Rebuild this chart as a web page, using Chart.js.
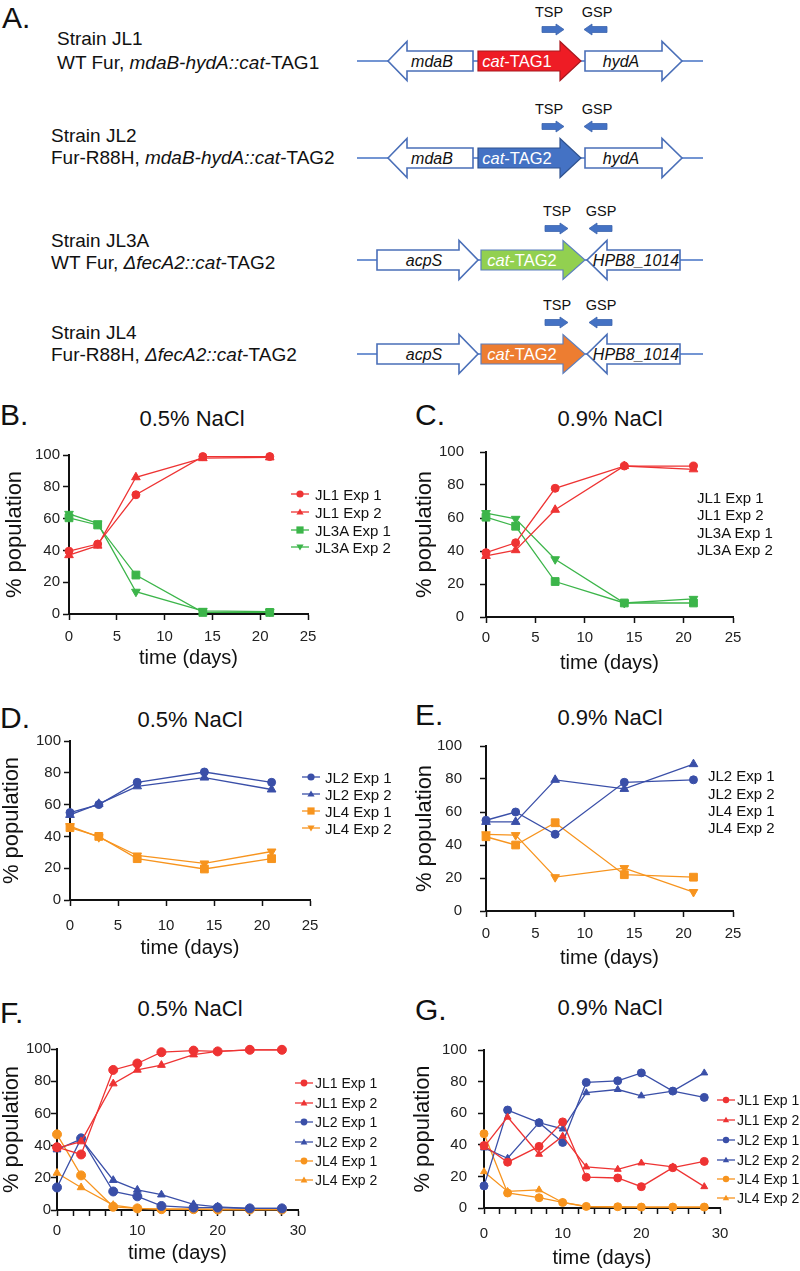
<!DOCTYPE html>
<html>
<head>
<meta charset="utf-8">
<script src="https://cdn.jsdelivr.net/npm/chart.js@4.4.1/dist/chart.umd.min.js"></script>
<style>
  body { margin: 0; background: #fff; }
  #fig { position: relative; width: 800px; height: 1271px; overflow: hidden;
         font-family: 'Liberation Sans', Arial, Helvetica, sans-serif; color: #111; }
  .abs { position: absolute; white-space: nowrap; }
  canvas { position: absolute; }
</style>
</head>
<body>
<div id="fig">
  <svg id="genes" width="800" height="390" style="position:absolute;left:0;top:0"></svg>
</div>
<script>
// ---- data ----
const daysShort = [0, 3, 7, 14, 21];
const daysLong = [0, 3, 7, 10, 13, 17, 20, 24, 28];

// B. 0.5% NaCl
const bJL1Exp1 = [39.5, 44, 75, 99, 99];
const bJL1Exp2 = [37, 43, 86, 98, 98.5];
const bJL3AExp1 = [60.5, 56, 24.5, 1, 1];
const bJL3AExp2 = [63, 57, 14, 2, 1.5];

// C. 0.9% NaCl
const cJL1Exp1 = [39, 45, 78, 91.5, 91.5];
const cJL1Exp2 = [37, 40.5, 65, 91.5, 89.5];
const cJL3AExp1 = [60.5, 55, 21.5, 8.5, 8.5];
const cJL3AExp2 = [63, 59.5, 35, 8.5, 11];

// D. 0.5% NaCl
const dJL2Exp1 = [55, 60, 74, 80.5, 74];
const dJL2Exp2 = [53.5, 60.5, 71.5, 77, 69.5];
const dJL4Exp1 = [45.5, 40, 26, 19.5, 26];
const dJL4Exp2 = [46.5, 39.5, 28, 23, 30.5];

// E. 0.9% NaCl
const eJL2Exp1 = [55, 60, 46.5, 78, 79.5];
const eJL2Exp2 = [54, 54, 79.5, 74, 89];
const eJL4Exp1 = [45, 40, 53.5, 22, 20.5];
const eJL4Exp2 = [46.5, 46, 20.5, 26, 11.5];

// F. 0.5% NaCl
const fJL1Exp1 = [39, 34.5, 87, 91, 98, 99, 98.5, 99.5, 99.5];
const fJL1Exp2 = [38.5, 42.5, 78.5, 87, 90, 96.5, 98.5, 99.5, 99.5];
const fJL2Exp1 = [14, 44.5, 11.5, 8.5, 2.5, 1.5, 1.5, 1, 1];
const fJL2Exp2 = [37.5, 44, 18.5, 12.5, 9.5, 3.5, 2, 1, 1];
const fJL4Exp1 = [47, 21.5, 2, 1, 0.5, 0.5, 0.3, 0.3, 0.3];
const fJL4Exp2 = [23, 14, 3, 1, 0.5, 0.5, 0.3, 0.3, 0.3];

// G. 0.9% NaCl
const gJL1Exp1 = [39.5, 29, 39, 54.5, 19.5, 19, 13.5, 25.5, 29.5];
const gJL1Exp2 = [38.5, 57.5, 34, 45.5, 26, 24.5, 28.5, 26, 13.5];
const gJL2Exp1 = [14, 62, 54, 41.5, 79.5, 80.5, 85.5, 74, 70];
const gJL2Exp2 = [38, 31.5, 54, 50, 73, 75, 71, 74, 85.5];
const gJL4Exp1 = [47, 9.5, 6.5, 3.5, 1, 0.8, 0.6, 0.6, 0.6];
const gJL4Exp2 = [23, 10.5, 11.5, 3.5, 0.8, 0.6, 0.5, 0.5, 0.5];

const yTicks = [0, 20, 40, 60, 80, 100];
const xTicksShort = [0, 5, 10, 15, 20, 25];
const xTicksLong = [0, 10, 20, 30];

// ---- styles ----
const FONT = "'Liberation Sans', Arial, Helvetica, sans-serif";
const RED = '#ee3333', GREEN = '#3cb54a', BLUE = '#3a4fa8', ORANGE = '#f7941e';
const fig = document.getElementById('fig');

// ---- panel A: gene diagrams ----
const NS = 'http://www.w3.org/2000/svg';
const svg = document.getElementById('genes');
function el(tag, attrs, parent, text) {
    const e = document.createElementNS(NS, tag);
    for (const k in attrs) e.setAttribute(k, attrs[k]);
    if (text != null) e.textContent = text;
    parent.appendChild(e);
    return e;
}

const strainNames = ['Strain JL1', 'Strain JL2', 'Strain JL3A', 'Strain JL4'];
const genotypes = [
    [['WT Fur, ', 0], ['mdaB-hydA::cat', 1], ['-TAG1', 0]],
    [['Fur-R88H, ', 0], ['mdaB-hydA::cat', 1], ['-TAG2', 0]],
    [['WT Fur, ', 0], ['\u0394fecA2::cat', 1], ['-TAG2', 0]],
    [['Fur-R88H, ', 0], ['\u0394fecA2::cat', 1], ['-TAG2', 0]]
];
const cassetteTags = ['-TAG1', '-TAG2', '-TAG2', '-TAG2'];
const cassetteFill = ['#ee1c25', '#4472c4', '#92d050', '#ed7d31'];
const cassetteStroke = ['#a8181e', '#2f528f', '#5b7fc0', '#5b7fc0'];

const rowY = [61, 158, 260, 354];
const strainY = [38, 135, 240, 332];
const genoY = [62, 157, 262, 354];
const textX = [57, 51, 51, 51];

const locusHyd = {
    flank: [
        { name: 'mdaB', dir: -1, from: 388, head: 407, to: 473, lx: 432 },
        { name: 'hydA', dir: 1, from: 585, head: 662, to: 682, lx: 621 }
    ],
    cat: { from: 478, head: 560, to: 581, lx: 517 },
    tsp: [542, 564, 549], gsp: [584, 607, 597]
};
const locusFec = {
    flank: [
        { name: 'acpS', dir: 1, from: 377, head: 459, to: 478, lx: 424 },
        { name: 'HPB8_1014', dir: -1, from: 587, head: 607, to: 680, lx: 636 }
    ],
    cat: { from: 481, head: 563, to: 585, lx: 522 },
    tsp: [545, 568, 557], gsp: [589, 612, 601]
};

function genePts(g, y) {
    const b = 10, h = 19.5;
    if (g.dir > 0) return [[g.from, y - b], [g.head, y - b], [g.head, y - h], [g.to, y], [g.head, y + h], [g.head, y + b], [g.from, y + b]];
    return [[g.from, y], [g.head, y - h], [g.head, y - b], [g.to, y - b], [g.to, y + b], [g.head, y + b], [g.head, y + h]];
}
function primerPts(x0, x1, dir, y) {
    const b = 3, h = 5.5, hl = 8;
    if (dir > 0) return [[x0, y - b], [x1 - hl, y - b], [x1 - hl, y - h], [x1, y], [x1 - hl, y + h], [x1 - hl, y + b], [x0, y + b]];
    return [[x0, y], [x0 + hl, y - h], [x0 + hl, y - b], [x1, y - b], [x1, y + b], [x0 + hl, y + b], [x0 + hl, y + h]];
}
const ptsStr = pts => pts.map(p => p.join(',')).join(' ');

el('text', { x: 2, y: 28, 'font-size': 30, 'font-family': FONT, fill: '#111' }, svg, 'A.');

strainNames.forEach((name, i) => {
    const y = rowY[i];
    const locus = i < 2 ? locusHyd : locusFec;
    el('text', { x: textX[i], y: strainY[i] + 6.8, 'font-size': 19, 'font-family': FONT, fill: '#111' }, svg, name);
    const t = el('text', { x: textX[i], y: genoY[i] + 6.8, 'font-size': 19, 'font-family': FONT, fill: '#111' }, svg);
    genotypes[i].forEach(([s, it]) => el('tspan', it ? { 'font-style': 'italic' } : {}, t, s));

    el('line', { x1: 357, y1: y, x2: 703, y2: y, stroke: '#4472c4', 'stroke-width': 1.6 }, svg);
    locus.flank.forEach(g => {
        el('polygon', { points: ptsStr(genePts(g, y)), fill: '#fff', stroke: '#4a6fb8', 'stroke-width': 1.6 }, svg);
        el('text', { x: g.lx, y: y + 5.6, 'font-size': 16, 'font-style': 'italic', 'text-anchor': 'middle', 'font-family': FONT, fill: '#111' }, svg, g.name);
    });
    const c = Object.assign({ dir: 1 }, locus.cat);
    el('polygon', { points: ptsStr(genePts(c, y)), fill: cassetteFill[i], stroke: cassetteStroke[i], 'stroke-width': 1.2 }, svg);
    const ct = el('text', { x: c.lx, y: y + 5.8, 'font-size': 16.5, 'text-anchor': 'middle', 'font-family': FONT, fill: '#fff' }, svg);
    el('tspan', { 'font-style': 'italic' }, ct, 'cat');
    el('tspan', {}, ct, cassetteTags[i]);

    el('text', { x: locus.tsp[2], y: y - 49 + 5.2, 'font-size': 14.5, 'text-anchor': 'middle', 'font-family': FONT, fill: '#111' }, svg, 'TSP');
    el('text', { x: locus.gsp[2], y: y - 49 + 5.2, 'font-size': 14.5, 'text-anchor': 'middle', 'font-family': FONT, fill: '#111' }, svg, 'GSP');
    el('polygon', { points: ptsStr(primerPts(locus.tsp[0], locus.tsp[1], 1, y - 31.5)), fill: '#4472c4', stroke: '#3c64ad', 'stroke-width': 0.8 }, svg);
    el('polygon', { points: ptsStr(primerPts(locus.gsp[0], locus.gsp[1], -1, y - 31.5)), fill: '#4472c4', stroke: '#3c64ad', 'stroke-width': 0.8 }, svg);
});

// ---- helpers for panels B-G ----
function addText(text, x, y, size, align) {
    const d = document.createElement('div');
    d.className = 'abs';
    d.textContent = text;
    d.style.fontSize = size + 'px';
    d.style.lineHeight = size + 'px';
    d.style.top = (y - size / 2) + 'px';
    if (align === 'center') {
        d.style.left = (x - 200) + 'px';
        d.style.width = '400px';
        d.style.textAlign = 'center';
    } else {
        d.style.left = x + 'px';
    }
    fig.appendChild(d);
    return d;
}

function markerSvg(color, style, r) {
    let shape;
    if (style === 'circle') shape = `<circle cx="9" cy="7" r="${r}" fill="${color}"/>`;
    else if (style === 'rect') shape = `<rect x="${9 - r}" y="${7 - r}" width="${2 * r}" height="${2 * r}" fill="${color}"/>`;
    else if (style === 'triangle') shape = `<polygon points="9,${7 - r} ${9 + r},${7 + r * 0.7} ${9 - r},${7 + r * 0.7}" fill="${color}"/>`;
    else shape = `<polygon points="9,${7 + r} ${9 + r},${7 - r * 0.7} ${9 - r},${7 - r * 0.7}" fill="${color}"/>`;
    return `<svg width="18" height="14" style="position:absolute;left:0;top:0"><line x1="0" y1="7" x2="18" y2="7" stroke="${color}" stroke-width="1.3"/>${shape}</svg>`;
}

function addLegend(p) {
    const lg = p.legend;
    p.series.forEach(([label, , color, style], i) => {
        const y = lg.rows[i];
        if (lg.markers) {
            const m = document.createElement('div');
            m.className = 'abs';
            m.style.left = lg.lineX + 'px';
            m.style.top = (y - 7) + 'px';
            m.style.width = '18px';
            m.style.height = '14px';
            m.innerHTML = markerSvg(color, style, lg.r);
            fig.appendChild(m);
        }
        addText(label, lg.textX, y, lg.fs);
    });
}

function buildChart(p) {
    const padT = 14, padR = 22, padB = 4;
    const cl = p.box.left - p.yw, ct = p.box.top - padT;
    const cw = p.box.right + padR - cl, ch = p.box.bottom + p.xh + padB - ct;
    const cv = document.createElement('canvas');
    cv.width = cw; cv.height = ch;
    cv.style.left = cl + 'px'; cv.style.top = ct + 'px';
    cv.style.width = cw + 'px'; cv.style.height = ch + 'px';
    fig.appendChild(cv);

    const xLabels = p.days === daysLong ? xTicksLong : xTicksShort;
    const datasets = p.series.map(([label, values, color, style]) => ({
        label: label,
        data: p.days.map((d, i) => ({ x: d, y: values[i] })),
        borderColor: color,
        backgroundColor: color,
        borderWidth: 1.3,
        tension: 0,
        clip: false,
        pointStyle: style === 'down' ? 'triangle' : style,
        rotation: style === 'down' ? 180 : 0,
        pointRadius: p.radius[style],
        pointBorderWidth: 1,
        pointBackgroundColor: color,
        pointBorderColor: color
    }));

    const gridOpts = { drawOnChartArea: false, drawTicks: true, tickLength: 6, tickWidth: 1.5, tickColor: '#111' };
    const borderOpts = { display: true, color: '#111', width: 2 };

    new Chart(cv, {
        type: 'line',
        data: { datasets: datasets },
        options: {
            responsive: false,
            animation: false,
            devicePixelRatio: 1,
            layout: { padding: { left: 0, top: padT, right: padR, bottom: padB } },
            plugins: { legend: { display: false }, tooltip: { enabled: false } },
            scales: {
                x: {
                    type: 'linear',
                    min: 0,
                    max: p.xMax,
                    grid: gridOpts,
                    border: borderOpts,
                    ticks: {
                        stepSize: p.xStep,
                        autoSkip: false,
                        maxRotation: 0,
                        padding: p.xPad,
                        color: '#222',
                        font: { family: FONT, size: 15 },
                        callback: v => xLabels.includes(v) ? String(v) : ''
                    },
                    title: { display: true, text: 'time (days)', color: '#111', font: { family: FONT, size: 20 }, padding: 0 },
                    afterFit: s => { s.height = p.xh; s.paddingLeft = 0; s.paddingRight = 0; }
                },
                y: {
                    type: 'linear',
                    min: 0,
                    max: 100,
                    grid: gridOpts,
                    border: borderOpts,
                    ticks: {
                        stepSize: 20,
                        padding: p.yPad,
                        color: '#222',
                        font: { family: FONT, size: 15 },
                        callback: v => yTicks.includes(v) ? String(v) : ''
                    },
                    title: { display: true, text: '% population', color: '#111', font: { family: FONT, size: 22 }, padding: 0 },
                    afterFit: s => { s.width = p.yw; s.paddingTop = 0; s.paddingBottom = 0; }
                }
            }
        }
    });
}

const rShort = { circle: 4, rect: 5.5, triangle: 5, down: 5 };
const panels = [
    {
        letter: ['B.', 0, 415], title: ['0.5% NaCl', 192, 419],
        days: daysShort, xMax: 25, xStep: 5, radius: rShort,
        series: [['JL1 Exp 1', bJL1Exp1, RED, 'circle'], ['JL1 Exp 2', bJL1Exp2, RED, 'triangle'],
                 ['JL3A Exp 1', bJL3AExp1, GREEN, 'rect'], ['JL3A Exp 2', bJL3AExp2, GREEN, 'down']],
        box: { left: 69, right: 308, top: 455, bottom: 614 }, yw: 67, yPad: 3, xPad: 8, xh: 56,
        legend: { markers: true, lineX: 291, textX: 315, rows: [494, 512, 530, 547], fs: 15, r: 3.6 }
    },
    {
        letter: ['C.', 415, 415], title: ['0.9% NaCl', 610, 419],
        days: daysShort, xMax: 25, xStep: 5, radius: rShort,
        series: [['JL1 Exp 1', cJL1Exp1, RED, 'circle'], ['JL1 Exp 2', cJL1Exp2, RED, 'triangle'],
                 ['JL3A Exp 1', cJL3AExp1, GREEN, 'rect'], ['JL3A Exp 2', cJL3AExp2, GREEN, 'down']],
        box: { left: 486, right: 733, top: 452, bottom: 617 }, yw: 74, yPad: 16, xPad: 6, xh: 58,
        legend: { markers: false, textX: 697, rows: [497, 514, 532, 549], fs: 15 }
    },
    {
        letter: ['D.', 0, 718], title: ['0.5% NaCl', 190, 720],
        days: daysShort, xMax: 25, xStep: 5, radius: rShort,
        series: [['JL2 Exp 1', dJL2Exp1, BLUE, 'circle'], ['JL2 Exp 2', dJL2Exp2, BLUE, 'triangle'],
                 ['JL4 Exp 1', dJL4Exp1, ORANGE, 'rect'], ['JL4 Exp 2', dJL4Exp2, ORANGE, 'down']],
        box: { left: 70, right: 310, top: 741, bottom: 900 }, yw: 71, yPad: 3, xPad: 11, xh: 60,
        legend: { markers: true, lineX: 302, textX: 325, rows: [777, 794, 811, 828], fs: 15, r: 3.6 }
    },
    {
        letter: ['E.', 415, 715], title: ['0.9% NaCl', 610, 718],
        days: daysShort, xMax: 25, xStep: 5, radius: rShort,
        series: [['JL2 Exp 1', eJL2Exp1, BLUE, 'circle'], ['JL2 Exp 2', eJL2Exp2, BLUE, 'triangle'],
                 ['JL4 Exp 1', eJL4Exp1, ORANGE, 'rect'], ['JL4 Exp 2', eJL4Exp2, ORANGE, 'down']],
        box: { left: 486, right: 733, top: 746, bottom: 911 }, yw: 74, yPad: 18, xPad: 8, xh: 59,
        legend: { markers: false, textX: 708, rows: [775, 793, 810, 827], fs: 15 }
    },
    {
        letter: ['F.', 0, 1013], title: ['0.5% NaCl', 190, 1009],
        days: daysLong, xMax: 30, xStep: 2, radius: { circle: 4.5, triangle: 4.5 },
        series: [['JL1 Exp 1', fJL1Exp1, RED, 'circle'], ['JL1 Exp 2', fJL1Exp2, RED, 'triangle'],
                 ['JL2 Exp 1', fJL2Exp1, BLUE, 'circle'], ['JL2 Exp 2', fJL2Exp2, BLUE, 'triangle'],
                 ['JL4 Exp 1', fJL4Exp1, ORANGE, 'circle'], ['JL4 Exp 2', fJL4Exp2, ORANGE, 'triangle']],
        box: { left: 57, right: 298, top: 1049, bottom: 1210 }, yw: 58, yPad: 0, xPad: 6, xh: 55,
        legend: { markers: true, lineX: 295, textX: 315, rows: [1083, 1103, 1122, 1142, 1161, 1180], fs: 14, r: 3.4 }
    },
    {
        letter: ['G.', 415, 1010], title: ['0.9% NaCl', 610, 1008],
        days: daysLong, xMax: 30, xStep: 2, radius: { circle: 4, triangle: 4 },
        series: [['JL1 Exp 1', gJL1Exp1, RED, 'circle'], ['JL1 Exp 2', gJL1Exp2, RED, 'triangle'],
                 ['JL2 Exp 1', gJL2Exp1, BLUE, 'circle'], ['JL2 Exp 2', gJL2Exp2, BLUE, 'triangle'],
                 ['JL4 Exp 1', gJL4Exp1, ORANGE, 'circle'], ['JL4 Exp 2', gJL4Exp2, ORANGE, 'triangle']],
        box: { left: 484, right: 720, top: 1050, bottom: 1208 }, yw: 74, yPad: 11, xPad: 11, xh: 62,
        legend: { markers: true, lineX: 717, textX: 737, rows: [1100, 1120, 1140, 1160, 1179, 1198], fs: 14, r: 3.2 }
    }
];

panels.forEach(p => {
    addText(p.letter[0], p.letter[1], p.letter[2], 30);
    addText(p.title[0], p.title[1], p.title[2], 22, 'center');
    buildChart(p);
    addLegend(p);
});
</script>
</body>
</html>
